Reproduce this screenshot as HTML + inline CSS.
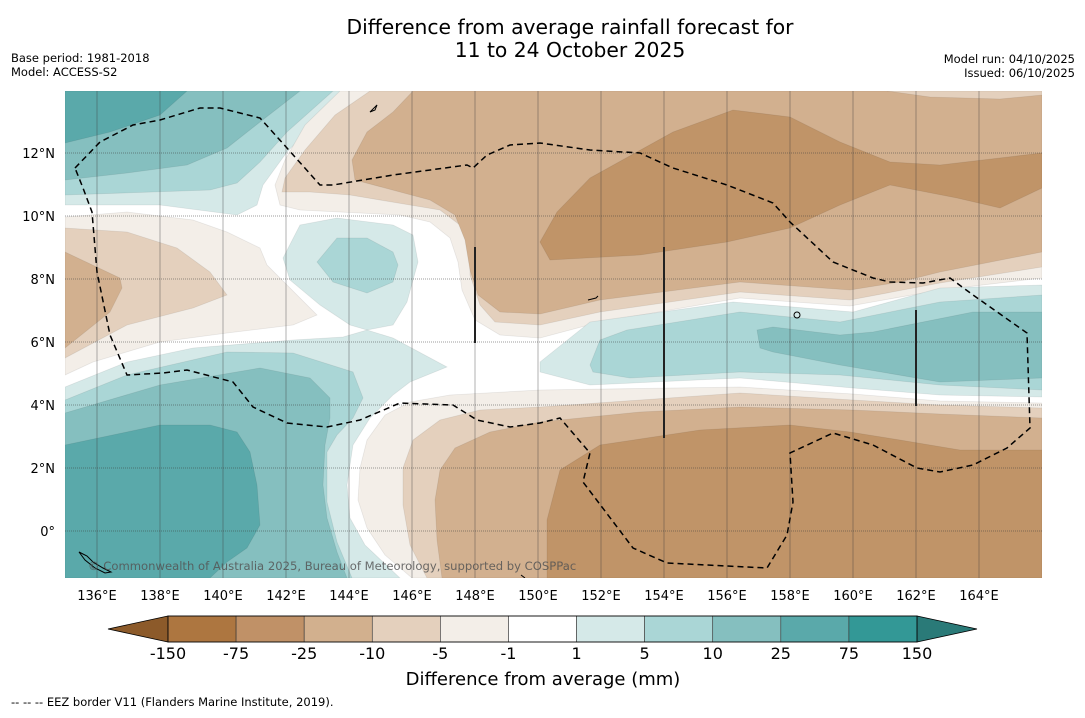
<!DOCTYPE html>
<html><head><meta charset="utf-8">
<style>
html,body{margin:0;padding:0;background:#fff;}
body{width:1085px;height:713px;overflow:hidden;font-family:"Liberation Sans","DejaVu Sans",sans-serif;}
</style></head>
<body>
<svg id="fig" width="1085" height="713" viewBox="0 0 1085 713" xmlns="http://www.w3.org/2000/svg" font-family="DejaVu Sans, Liberation Sans, sans-serif">
<rect width="1085" height="713" fill="#fff"/>
<text x="570" y="34" font-size="20.3" text-anchor="middle" fill="#000">Difference from average rainfall forecast for</text>
<text x="570" y="57" font-size="20.3" text-anchor="middle" fill="#000">11 to 24 October 2025</text>
<text x="11" y="62" font-size="11.5">Base period: 1981-2018</text>
<text x="11" y="76" font-size="11.5">Model: ACCESS-S2</text>
<text x="1075" y="63" font-size="11.5" text-anchor="end">Model run: 04/10/2025</text>
<text x="1075" y="77" font-size="11.5" text-anchor="end">Issued: 06/10/2025</text>

<defs><clipPath id="mapclip"><rect x="65" y="91" width="977" height="487"/></clipPath></defs>
<g clip-path="url(#mapclip)">
<rect x="65" y="91" width="977" height="487" fill="#fff"/>
<g stroke="rgba(0,0,0,0.08)" stroke-width="0.8">
<polygon fill="#d5e9e8" points="65,91 353,91 320,118 287,152 263,185 257,205 237,215 160,205 65,205"/>
<polygon fill="#aad6d6" points="65,91 333,91 287,132 260,162 237,183 210,190 65,195"/>
<polygon fill="#85bfbf" points="65,91 300,91 260,122 227,148 187,165 127,173 65,180"/>
<polygon fill="#5aa9aa" points="65,91 187,91 160,115 110,132 65,143"/>
<polygon fill="#f3eee8" points="340,91 1042,91 1042,278 940,290 850,306 740,298 600,322 540,338 500,335 475,320 462,290 458,262 450,238 430,222 400,215 360,213 300,210 280,205 275,185 285,160 305,125"/>
<polygon fill="#e4d0bd" points="370,91 1042,91 1042,267 940,283 850,300 740,292 600,312 540,325 495,322 480,305 470,275 470,245 460,225 440,210 410,205 350,195 310,192 282,192 285,178 305,150 335,115"/>
<polygon fill="#d2b08f" points="413,91 1042,91 1042,252 940,272 900,282 850,290 740,282 600,300 540,314 500,312 478,295 470,270 465,240 455,215 430,200 400,192 355,180 352,160 367,132 393,112"/>
<polygon fill="#e4d0bd" points="887,91 930,97 1000,99 1042,95 1042,91"/>
<polygon fill="#c09468" points="540,242 557,212 590,178 673,132 733,110 790,117 840,142 890,162 940,165 1042,153 1042,188 1000,208 957,198 890,185 840,205 790,228 727,242 640,255 550,260"/>
<polygon fill="#f3eee8" points="65,217 127,212 193,220 227,232 260,248 267,265 287,285 317,315 293,325 227,333 160,342 93,362 65,375"/>
<polygon fill="#e4d0bd" points="65,228 127,232 177,248 210,272 227,295 193,308 127,325 65,358"/>
<polygon fill="#d2b08f" points="65,252 120,278 122,288 110,312 65,348"/>
<polygon fill="#d5e9e8" points="283,258 290,280 320,305 350,325 367,330 393,325 407,302 418,262 413,235 393,225 337,218 300,225"/>
<polygon fill="#aad6d6" points="317,262 337,238 367,238 393,252 398,265 393,282 367,293 333,282"/>
<polygon fill="#d5e9e8" points="65,387 127,362 193,348 293,340 343,337 367,330 393,338 447,367 410,382 393,395 370,418 353,445 347,485 350,518 365,545 400,578 65,578"/>
<polygon fill="#aad6d6" points="65,400 127,375 227,352 293,353 353,372 363,398 353,418 337,435 327,452 327,502 337,542 352,578 65,578"/>
<polygon fill="#85bfbf" points="65,413 160,385 260,368 310,378 330,398 330,418 325,445 323,485 327,518 337,552 347,578 65,578"/>
<polygon fill="#5aa9aa" points="65,445 160,425 210,425 237,432 250,452 257,485 260,525 247,548 227,562 210,578 65,578"/>
<polygon fill="#d5e9e8" points="540,362 590,322 733,302 853,312 940,288 1042,285 1042,397 940,395 853,388 740,378 590,385 540,372"/>
<polygon fill="#aad6d6" points="590,365 600,340 627,330 740,312 840,322 940,302 1042,295 1042,390 940,385 840,375 740,372 630,378 593,372"/>
<polygon fill="#85bfbf" points="757,330 773,327 840,335 873,332 973,312 1042,312 1042,378 940,382 840,365 773,352 760,348"/>
<polygon fill="#f3eee8" points="412,578 385,555 367,528 358,500 360,468 367,440 385,415 410,402 450,395 540,390 740,387 853,394 940,401 1042,403 1042,578"/>
<polygon fill="#e4d0bd" points="427,578 410,545 403,505 403,468 413,440 440,420 480,410 540,407 740,393 853,400 940,405 1042,408 1042,578"/>
<polygon fill="#d2b08f" points="442,578 437,540 435,500 440,470 455,448 490,432 540,422 640,412 740,407 853,410 940,414 1042,418 1042,578"/>
<polygon fill="#c09468" points="547,578 547,520 560,470 600,445 700,430 790,425 850,432 900,440 960,450 1042,450 1042,578"/>
</g>
<g id="grid"></g>
<polyline fill="none" stroke="#000" stroke-width="1.5" stroke-dasharray="6,4" points="75,168 100,142 133,125 160,120 200,108 220,108 260,118 287,148 320,185 333,185 393,175 467,165 473,168 487,155 510,145 540,143 590,150 640,153 673,168 727,185 773,203 790,222 833,262 873,278 890,282 923,283 950,278 973,295 1027,333 1030,428 1007,448 973,465 940,472 917,468 873,445 833,433 790,453 793,502 787,535 767,568 667,563 633,548 583,482 590,453 560,418 540,423 510,427 477,420 453,405 400,403 360,420 327,427 287,423 253,407 233,382 187,370 163,373 127,375 110,335 97,272 92,212 83,188 75,168"/>
<line x1="475" y1="247" x2="475" y2="343" stroke="#222" stroke-width="2"/>
<line x1="664" y1="247" x2="664" y2="438" stroke="#222" stroke-width="2"/>
<line x1="916" y1="310" x2="916" y2="406" stroke="#222" stroke-width="2"/>
<g fill="none" stroke="#000" stroke-width="1">
<path d="M370,112 l4,-4 l3,-3 l-2,5 z"/>
<path d="M79,552 l8,4 l6,6 l10,6 l8,4 l-6,1 l-10,-5 l-10,-8 z"/>
<ellipse cx="797" cy="315" rx="3" ry="3"/>
<path d="M588,300 l8,-2 l2,-2"/>
<path d="M521,575 l4,3"/>
</g>
<text x="88" y="570" font-size="11.6" fill="#555" fill-opacity="0.85">© Commonwealth of Australia 2025, Bureau of Meteorology, supported by COSPPac</text>
</g>
<g id="axislabels" font-size="13" fill="#000"></g>
<g id="colorbar"></g>
<text x="543" y="685" font-size="18" text-anchor="middle">Difference from average (mm)</text>
<text x="11" y="706" font-size="11.5">--  --  -- EEZ border V11 (Flanders Marine Institute, 2019).</text>
</svg>
<script>
const NS = "http://www.w3.org/2000/svg";
const levelLabels = ["-150","-75","-25","-10","-5","-1","1","5","10","25","75","150"];
const levelColors = ["#ad7640","#c09167","#d2b08e","#e4d0bd","#f3eee8","#ffffff","#d5e9e8","#aad6d6","#85bfbf","#5aa9aa","#339896"];
const extendColors = ["#8c5a2a","#2a7a78"];
const lonTicks = [136,138,140,142,144,146,148,150,152,154,156,158,160,162,164];
const latTicks = [12,10,8,6,4,2,0];

const xLon = lon => 97 + (lon - 136) * 31.5;
const yLat = lat => 531 - lat * 31.5;
function mk(tag, attrs){ const e=document.createElementNS(NS,tag); for(const k in attrs) e.setAttribute(k,attrs[k]); return e; }

const grid = document.getElementById('grid');
lonTicks.forEach(l=>{
  const ln = mk('line',{x1:xLon(l),x2:xLon(l),y1:91,y2:578,stroke:'rgba(60,60,60,0.4)','stroke-width':1});
  
  
  grid.appendChild(ln);
});
latTicks.forEach(l=>{
  const ln = mk('line',{x1:65,x2:1042,y1:yLat(l),y2:yLat(l),stroke:'rgba(60,60,60,0.5)','stroke-width':1,'stroke-dasharray':'1,1'});
  
  
  grid.appendChild(ln);
});
const ax = document.getElementById('axislabels');
lonTicks.forEach(l=>{
  const t = mk('text',{x:xLon(l),y:600,'text-anchor':'middle'});
  t.textContent = l+'°E';
  
  
  ax.appendChild(t);
});
latTicks.forEach(l=>{
  const t = mk('text',{x:55,y:yLat(l)+5,'text-anchor':'end'});
  t.textContent = l===0 ? '0°' : l+'°N';
  
  
  ax.appendChild(t);
});

const cb = document.getElementById('colorbar');
const cbL = 168, cbR = 917, cbT = 616, cbB = 642;
const w = (cbR - cbL) / levelColors.length;
const left = mk('polygon',{points:`108,${(cbT+cbB)/2} ${cbL},${cbT} ${cbL},${cbB}`,fill:extendColors[0],stroke:'#000','stroke-width':0.8});


cb.appendChild(left);
const right = mk('polygon',{points:`977,${(cbT+cbB)/2} ${cbR},${cbT} ${cbR},${cbB}`,fill:extendColors[1],stroke:'#000','stroke-width':0.8});


cb.appendChild(right);
levelColors.forEach((c,i)=>{
  const r = mk('rect',{x:cbL+i*w,y:cbT,width:w,height:cbB-cbT,fill:c,stroke:'#333','stroke-width':0.6});
  
  
  cb.appendChild(r);
});
const outline = mk('rect',{x:cbL,y:cbT,width:cbR-cbL,height:cbB-cbT,fill:'none',stroke:'#000','stroke-width':0.8});


cb.appendChild(outline);
levelLabels.forEach((lab,i)=>{
  const t = mk('text',{x:cbL+i*w,y:659,'text-anchor':'middle','font-size':16});
  t.textContent = lab;
  
  
  cb.appendChild(t);
});
</script>
</body></html>
